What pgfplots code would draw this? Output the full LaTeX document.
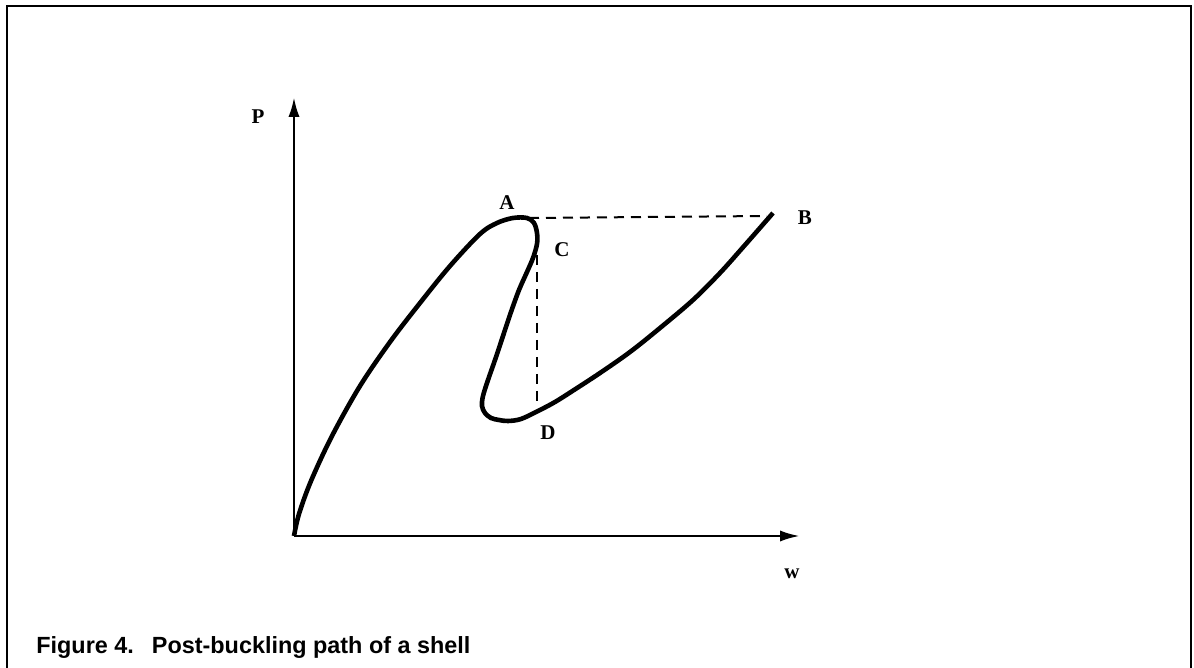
\documentclass[border=0pt]{standalone}
\usepackage{fontspec}
\setmainfont{Liberation Serif}
\newfontfamily\capfont{Liberation Sans}
\usepackage{pgfplots}
\pgfplotsset{compat=1.18}
\usetikzlibrary{arrows.meta}

\tikzset{lbl/.style={font=\bfseries\fontsize{10.5}{12}\selectfont}}

\begin{document}
\begin{tikzpicture}
% page = 1194 x 668 px, 1 px = 0.5pt, origin of the axis at px (294,536)
\path[use as bounding box] (-147pt,-66pt) rectangle (450pt,268pt);
\begin{axis}[
    x=0.5pt, y=0.5pt,
    xmin=0, xmax=506,
    ymin=0, ymax=439,
    enlargelimits=false,
    axis lines*=left,
    axis line style={line width=1.4pt, -{Latex[length=10pt,width=5.6pt]}},
    ticks=none,
    clip=false,
]

% load-deflection path: origin -> A -> C -> D -> B
\addplot[black, line width=2.3pt, smooth, tension=0.55] coordinates {
    (0,0) (5,22) (17,55) (38,100) (66,150) (96,194) (126,233)
    (156,270) (186,302) (203,313) (219,318) (233,318) (240,313)
    (243,303) (243,292) (239,278) (233,264) (225,246) (217,224)
    (209,200) (201,176) (194,156) (189,140) (188,130) (191,123)
    (197,118) (205,116) (214,115) (227,117) (244,125) (261,134)
    (280,146) (306,163) (336,184) (366,208) (399,236) (426,263)
    (451,291) (479,323)
};

% snap-through A-B and C-D
\addplot[black, line width=1pt, dash pattern=on 5pt off 3.5pt] coordinates {
    (235,318) (473,320)
};
\addplot[black, line width=1pt, dash pattern=on 5pt off 3.5pt] coordinates {
    (243,281) (243,131)
};

\node[lbl] at (axis cs:213,333) {A};
\node[lbl] at (axis cs:511,318) {B};
\node[lbl] at (axis cs:268,286) {C};
\node[lbl] at (axis cs:254,103) {D};
\node[lbl] at (axis cs:-36,419) {P};
\node[lbl] at (axis cs:498,-38) {w};

% frame (open at the bottom, as in the scan)
\draw[line width=1.2pt] (axis cs:-287,-140) -- (axis cs:-287,530)
    -- (axis cs:897,530) -- (axis cs:897,-140);

\node[anchor=base west, inner sep=0pt,
      font=\capfont\bfseries\fontsize{11.7}{14}\selectfont]
    at (axis cs:-258,-118) {Figure 4.\hspace{9pt}Post-buckling path of a shell};
\end{axis}
\end{tikzpicture}
\end{document}
